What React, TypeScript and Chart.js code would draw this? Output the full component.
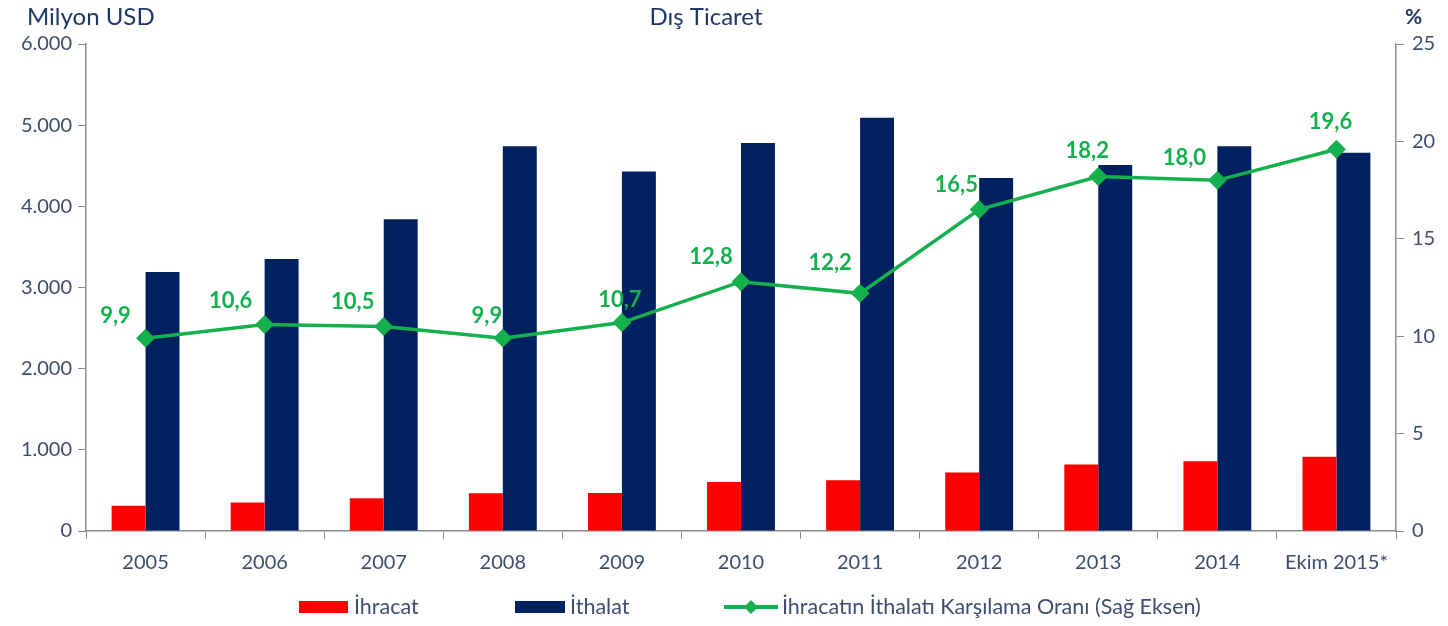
import React, { useEffect, useRef } from "react";
import { Chart, registerables } from "chart.js";

Chart.register(...registerables);

const categories = ["2005", "2006", "2007", "2008", "2009", "2010", "2011", "2012", "2013", "2014", "Ekim 2015*"];
const exports = [310, 350, 405, 465, 468, 605, 625, 720, 820, 858, 915];
const imports = [3190, 3350, 3840, 4740, 4430, 4780, 5090, 4350, 4510, 4740, 4660];
const ratio = [9.9, 10.6, 10.5, 9.9, 10.7, 12.8, 12.2, 16.5, 18.2, 18.0, 19.6];
const labelDx = [-30, -34, -31, -16, -2, -30, -30, -23, -11, -33, -6];
const labelDy = [-22, -24, -25, -22, -23, -25, -30, -25, -26, -22, -27];

const TEXT = "#3B4E6E";
const TITLE = "#1F3864";
const GREEN = "#14B04E";
const FONT = "Lato, 'Open Sans', sans-serif";

export default function App() {
  const ref = useRef<HTMLCanvasElement>(null);
  useEffect(() => {
    document.body.style.margin = "0";
    const ctx = ref.current!.getContext("2d")!;
    const overlay = {
      id: "overlay",
      afterDatasetsDraw(chart: any) {
        const c = chart.ctx;
        c.save();
        // value labels
        const meta = chart.getDatasetMeta(2);
        c.fillStyle = GREEN;
        c.font = `bold 22px ${FONT}`;
        c.textAlign = "center";
        c.textBaseline = "middle";
        meta.data.forEach((p: any, i: number) => {
          c.fillText(ratio[i].toFixed(1).replace(".", ","), p.x + labelDx[i], p.y + labelDy[i]);
        });
        // titles
        c.fillStyle = TITLE;
        c.font = `24px ${FONT}`;
        c.textBaseline = "middle";
        c.fillText("Dış Ticaret", 706, 17);
        c.textAlign = "left";
        c.fillText("Milyon USD", 27, 17);
        c.font = `bold 21px ${FONT}`;
        c.fillText("%", 1405, 17);
        // legend
        const ds = chart.data.datasets;
        c.font = `21.5px ${FONT}`;
        c.fillStyle = ds[0].backgroundColor;
        c.fillRect(299, 601, 49, 12);
        c.fillStyle = ds[1].backgroundColor;
        c.fillRect(515, 601, 50, 12);
        c.strokeStyle = GREEN;
        c.lineWidth = 4;
        c.beginPath();
        c.moveTo(724, 607);
        c.lineTo(778, 607);
        c.stroke();
        c.fillStyle = GREEN;
        c.beginPath();
        c.moveTo(751, 600);
        c.lineTo(758, 607);
        c.lineTo(751, 614);
        c.lineTo(744, 607);
        c.closePath();
        c.fill();
        c.fillStyle = TEXT;
        c.textAlign = "left";
        c.fillText(ds[0].label, 354, 607);
        c.fillText(ds[1].label, 570, 607);
        c.fillText(ds[2].label, 782, 607);
        c.restore();
      },
    };
    const chart = new Chart(ctx, {
      type: "bar",
      data: {
        labels: categories,
        datasets: [
          {
            type: "bar",
            label: "İhracat",
            data: exports,
            backgroundColor: "#FF0000",
            yAxisID: "y",
            categoryPercentage: 0.57,
            barPercentage: 1,
            order: 2,
          },
          {
            type: "bar",
            label: "İthalat",
            data: imports,
            backgroundColor: "#00215F",
            yAxisID: "y",
            categoryPercentage: 0.57,
            barPercentage: 1,
            order: 2,
          },
          {
            type: "line",
            label: "İhracatın İthalatı Karşılama Oranı (Sağ Eksen)",
            data: ratio,
            borderColor: GREEN,
            backgroundColor: GREEN,
            borderWidth: 3.5,
            pointStyle: "rectRot",
            pointRadius: 7,
            pointHoverRadius: 7,
            yAxisID: "y1",
            order: 1,
          } as any,
        ],
      },
      options: {
        responsive: false,
        animation: false,
        layout: { padding: { top: 44, left: 0, right: 0, bottom: 0 } },
        plugins: { legend: { display: false }, tooltip: { enabled: false } },
        scales: {
          x: {
            offset: true,
            grid: { display: true, drawOnChartArea: false, drawTicks: true, tickLength: 8, color: "#8C8C8C", offset: true },
            border: { color: "#8C8C8C", width: 1.5 },
            ticks: { color: TEXT, font: { family: FONT, size: 20 }, padding: 12, maxRotation: 0, autoSkip: false },
            afterFit(s: any) { s.height = 95; },
          },
          y: {
            position: "left",
            min: 0,
            max: 6000,
            grid: { drawOnChartArea: false, drawTicks: true, tickLength: 8, color: "#8C8C8C" },
            border: { color: "#8C8C8C", width: 1.5 },
            ticks: {
              stepSize: 1000,
              color: TEXT,
              font: { family: FONT, size: 20 },
              padding: 6,
              callback: (v: any) => (v === 0 ? "0" : Number(v).toLocaleString("de-DE", { minimumFractionDigits: 0 }).replace(/,/g, ".")),
            },
            afterFit(s: any) { s.width = 86; },
          },
          y1: {
            position: "right",
            min: 0,
            max: 25,
            grid: { drawOnChartArea: false, drawTicks: true, tickLength: 8, color: "#8C8C8C" },
            border: { color: "#8C8C8C", width: 1.5 },
            ticks: { stepSize: 5, color: TEXT, font: { family: FONT, size: 20 }, padding: 8 },
            afterFit(s: any) { s.width = 52; },
          },
        },
      },
      plugins: [overlay],
    });
    return () => chart.destroy();
  }, []);
  return (
    <div style={{ width: 1448, height: 626, position: "absolute", left: 0, top: 0 }}>
      <canvas ref={ref} width={1448} height={626} />
    </div>
  );
}
